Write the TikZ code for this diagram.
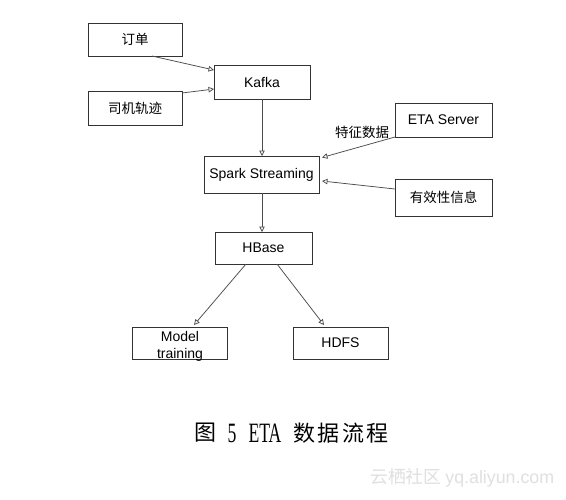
\documentclass[tikz,border=0pt]{standalone}
\usepackage{graphicx}
\usepackage{fontspec}
\setmainfont{Liberation Sans}
\newfontfamily\cjk{Noto Sans CJK SC}
\newfontfamily\capserif{Liberation Serif}
\usetikzlibrary{arrows.meta,calc}
\begin{document}
\begin{tikzpicture}[x=1pt,y=-1pt,
  box/.style={draw=black!80,line width=0.8pt,inner sep=0pt,outer sep=0pt,fill=white,font=\fontsize{14}{16}\selectfont},
  cbox/.style={box,font=\cjk\fontsize{13.5}{16}\selectfont},
  flow/.style={draw=black!70,line width=0.75pt,-{Triangle[open,length=5.5pt,width=5.5pt]}},
  lbl/.style={font=\cjk\fontsize{13.5}{15}\selectfont,inner sep=0pt},
  capc/.style={font=\cjk\fontsize{22}{24}\selectfont,inner sep=0pt}]
\useasboundingbox[fill=white] (0,0) rectangle (566,499);
\node[cbox,minimum width=94pt,minimum height=33pt] (dingdan) at (135,39.5) {订单};
\node[box,minimum width=96pt,minimum height=34pt] (kafka) at (262,82) {Kafka};
\node[cbox,minimum width=94pt,minimum height=34pt] (siji) at (135,108) {司机轨迹};
\node[box,minimum width=115pt,minimum height=37pt] (spark) at (261.5,174.5) {Spark Streaming};
\node[box,minimum width=97pt,minimum height=34pt] (eta) at (443.5,120) {ETA Server};
\node[cbox,minimum width=97pt,minimum height=37pt] (youxiao) at (443.5,197.5) {有效性信息};
\node[box,minimum width=97pt,minimum height=32pt] (hbase) at (263.5,248) {HBase};
\node[box,minimum width=95pt,minimum height=32pt] (model) at (179.5,343) {};
\node[box,minimum width=95pt,minimum height=32pt] (hdfs) at (340.5,343) {HDFS};
\node[font=\fontsize{14}{17}\selectfont,align=center,inner sep=0pt] (modeltxt) at (180,346.5) {Model\\training};
\draw[flow] ([xshift=17pt]dingdan.south) -- ([yshift=12pt]kafka.west);
\draw[flow] ([yshift=15pt]siji.east) -- ([yshift=-7pt]kafka.west);
\draw[flow] (kafka.south) -- (kafka.south |- spark.north);
\draw[flow] (eta.south west) -- ([xshift=3pt,yshift=17pt]spark.east);
\draw[flow] ([yshift=8.5pt]youxiao.west) -- ([xshift=3pt,yshift=-6.5pt]spark.east);
\draw[flow] ([xshift=0.5pt]spark.south) -- ([xshift=0.5pt]spark.south |- hbase.north);
\draw[flow] ([xshift=-17.5pt]hbase.south) -- ([xshift=14.5pt,yshift=2pt]model.north);
\draw[flow] ([xshift=13.5pt]hbase.south) -- ([xshift=-16.5pt,yshift=2pt]hdfs.north);
\node[lbl] (tezheng) at (362,132) {特征数据};
\node[capc] (cap1) at (205,433) {图};
\node[inner sep=0pt,font=\capserif\fontsize{28}{30}\selectfont] (cap2) at (232,433.5) {\scalebox{0.63}[1]{5}};
\node[inner sep=0pt,font=\capserif\fontsize{28}{30}\selectfont] (cap3) at (265,433.5) {\scalebox{0.63}[1]{ETA}};
\node[capc] (cap4) at (304,433) {数};
\node[capc] (cap5) at (328.5,433) {据};
\node[capc] (cap6) at (353,433) {流};
\node[capc] (cap7) at (377.5,433) {程};
\node[inner sep=0pt,anchor=west,text=black!12,font=\fontsize{17.8}{20}\selectfont] (wm) at (370,478) {\cjk 云栖社区\ \normalfont yq.aliyun.com};
\end{tikzpicture}
\end{document}
